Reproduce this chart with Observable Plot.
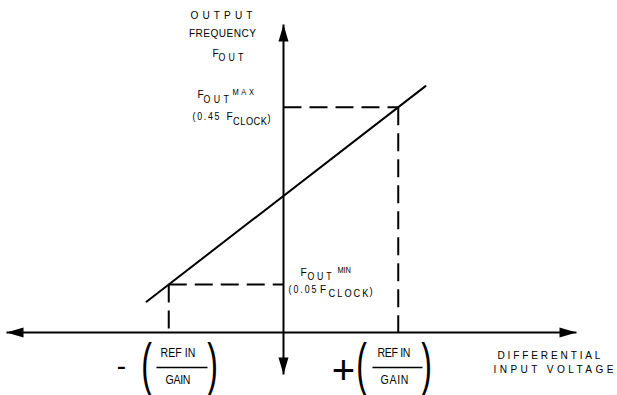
<!DOCTYPE html>
<html><head><meta charset="utf-8">
<script src="https://cdn.jsdelivr.net/npm/d3@7"></script>
<script src="https://cdn.jsdelivr.net/npm/@observablehq/plot@0.6"></script>
<style>
html,body{margin:0;padding:0;background:#fff;}
#chart svg{display:block;background:#fff;}
</style></head><body><div id="chart"></div>
<script>
// x: differential input voltage in units of REF IN / GAIN
// y: output frequency as a fraction of F_CLOCK (schematic)
const inputLimits = [-1, 1];          // -(REF IN/GAIN), +(REF IN/GAIN)
const outputLimits = [0.05, 0.45];    // F_OUT MIN, F_OUT MAX
const transferV = [-1.194, 1.2375];
const transferF = [0.0112, 0.4975];
const xAxisLevel = -0.0583;
const xAxisEnds = [-2.4139, 2.5534];
const yAxisEnds = [-0.153, 0.6366];

// label pieces
const labelText = ["OUTPUT","FREQUENCY","F","OUT",
  "F","OUT","MAX","(0.45","F","CLOCK",")",
  "F","OUT","MIN","(0.05","F","CLOCK",")",
  "REF IN","GAIN","REF IN","GAIN","DIFFERENTIAL","INPUT VOLTAGE"];
const labelV = [-0.5403,-0.5316,-0.6187,-0.5664,
  -0.7495,-0.6972,-0.4444,-0.7930,-0.4967,-0.4401,-0.1394,
  0.1481,0.2092,0.4706,0.0436,0.3181,0.3922,0.7495,
  -0.9194,-0.9194,0.9630,0.9673,2.3137,2.3529];
const labelF = [0.6569,0.6163,0.5723,0.5610,
  0.4787,0.4674,0.4832,0.4290,0.4290,0.4177,0.4245,
  0.0771,0.0669,0.0827,0.0387,0.0387,0.0297,0.0342,
  -0.1057,-0.1666,-0.1057,-0.1666,-0.1102,-0.1418];

// fraction bars and bracket glyphs
const fracBarV1 = [-1.1068, 0.7756];
const fracBarV2 = [-0.6623, 1.2113];
const fracBarF = -0.1373;
const parenText = ["(", ")", "(", ")"];
const parenV = [-1.1939, -0.6187, 0.6797, 1.2462];
const parenF = -0.1316;
const signText = ["-", "+"];
const signV = [-1.4118, 0.5229];
const signF = [-0.1341, -0.1463];

// styles (kept apart from the values)
const labelSize = [11.5,11.5,11.5,10, 11.5,10,8.5,10,11.5,10.5,10.5, 11.5,10,8.5,10,11.5,10.5,10.5, 12,12,12,12,11.5,11.5];
const labelAnchor = ["middle","middle","start","start", "start","start","start","start","start","start","start",
  "start","start","start","start","start","start","start", "middle","middle","middle","middle","middle","middle"];
const labelLength = [62,67,null,25, null,25.5,21.5,27,null,34,null, null,24,13.5,28,null,40,null, 35,25,33,28,103,120];
const signSize = [28, 40];
const NARROW = 0.88; // horizontal squeeze that mimics the narrow lettering

const labels = labelText.map((t, i) => ({text: t, v: labelV[i], f: labelF[i], size: labelSize[i], anchor: labelAnchor[i], len: labelLength[i]}));
const startLabels = labels.filter(d => d.anchor === "start");
const middleLabels = labels.filter(d => d.anchor === "middle");

const guides = [
  {v1: 0, f1: outputLimits[1], v2: inputLimits[1], f2: outputLimits[1]},
  {v1: inputLimits[1], f1: outputLimits[1], v2: inputLimits[1], f2: xAxisLevel},
  {v1: inputLimits[0], f1: outputLimits[0], v2: 0, f2: outputLimits[0]},
  {v1: inputLimits[0], f1: outputLimits[0], v2: inputLimits[0], f2: xAxisLevel}
];
const transfer = transferV.map((v, i) => ({v, f: transferF[i]}));
const bars = fracBarV1.map((v, i) => ({v1: v, v2: fracBarV2[i], f: fracBarF}));
const parens = parenText.map((t, i) => ({text: t, v: parenV[i], f: parenF}));
const signs = signText.map((t, i) => ({text: t, v: signV[i], f: signF[i], size: signSize[i]}));
const heads = [
  {v: xAxisEnds[0], f: xAxisLevel, r: -90},
  {v: xAxisEnds[1], f: xAxisLevel, r: 90},
  {v: 0, f: yAxisEnds[1], r: 0},
  {v: 0, f: yAxisEnds[0], r: 180}
];
const arrowHead = {draw(ctx) { ctx.moveTo(0, 0); ctx.lineTo(5, 17); ctx.lineTo(-5, 17); ctx.closePath(); }};

const FONT = "'Liberation Sans', Arial, sans-serif";

const svg = Plot.plot({
  width: 617,
  height: 395,
  margin: 0,
  style: {background: "#fff"},
  x: {domain: [-2.4662, 2.9107], axis: null},
  y: {domain: [-0.2004, 0.6907], axis: null},
  marks: [
    Plot.link([{v1: xAxisEnds[0], v2: xAxisEnds[1]}], {x1: "v1", x2: "v2", y1: xAxisLevel, y2: xAxisLevel, stroke: "#000", strokeWidth: 2}),
    Plot.link([{f1: yAxisEnds[0], f2: yAxisEnds[1]}], {x1: 0, x2: 0, y1: "f1", y2: "f2", stroke: "#000", strokeWidth: 2}),
    Plot.link(guides, {x1: "v1", y1: "f1", x2: "v2", y2: "f2", stroke: "#000", strokeWidth: 2, strokeDasharray: "18,8"}),
    Plot.line(transfer, {x: "v", y: "f", stroke: "#000", strokeWidth: 2}),
    Plot.dot(heads, {x: "v", y: "f", rotate: "r", symbol: arrowHead, fill: "#000", stroke: "none"}),
    Plot.link(bars, {x1: "v1", x2: "v2", y1: "f", y2: "f", stroke: "#000", strokeWidth: 1.5}),
    Plot.text(startLabels, {x: "v", y: "f", text: "text", fontSize: "size", textAnchor: "start", lineAnchor: "middle", fill: "#000", fontFamily: FONT}),
    Plot.text(middleLabels, {x: "v", y: "f", text: "text", fontSize: "size", textAnchor: "middle", lineAnchor: "middle", fill: "#000", fontFamily: FONT}),
    Plot.text(parens, {x: "v", y: "f", text: "text", fontSize: 40, textAnchor: "middle", lineAnchor: "middle", fill: "#000", fontFamily: FONT}),
    Plot.text(signs, {x: "v", y: "f", text: "text", fontSize: "size", textAnchor: "middle", lineAnchor: "middle", fill: "#000", fontFamily: FONT})
  ]
});

// text mark groups, in the order the marks were given
const textGroups = Array.from(svg.querySelectorAll('g[aria-label="text"]'));
function applyLengths(group, rows) {
  if (!group) return;
  group.querySelectorAll("text").forEach((t, i) => {
    const d = rows[i];
    t.setAttribute("transform", (t.getAttribute("transform") || "") + ` scale(${NARROW},1)`);
    if (d && d.len) { t.setAttribute("textLength", d.len / NARROW); t.setAttribute("lengthAdjust", "spacing"); }
  });
}
applyLengths(textGroups[0], startLabels);
applyLengths(textGroups[1], middleLabels);
if (textGroups[2]) textGroups[2].querySelectorAll("text").forEach(t => {
  t.setAttribute("transform", (t.getAttribute("transform") || "") + " scale(0.8,1.45)");
});

document.getElementById("chart").appendChild(svg);
</script>
</body></html>
